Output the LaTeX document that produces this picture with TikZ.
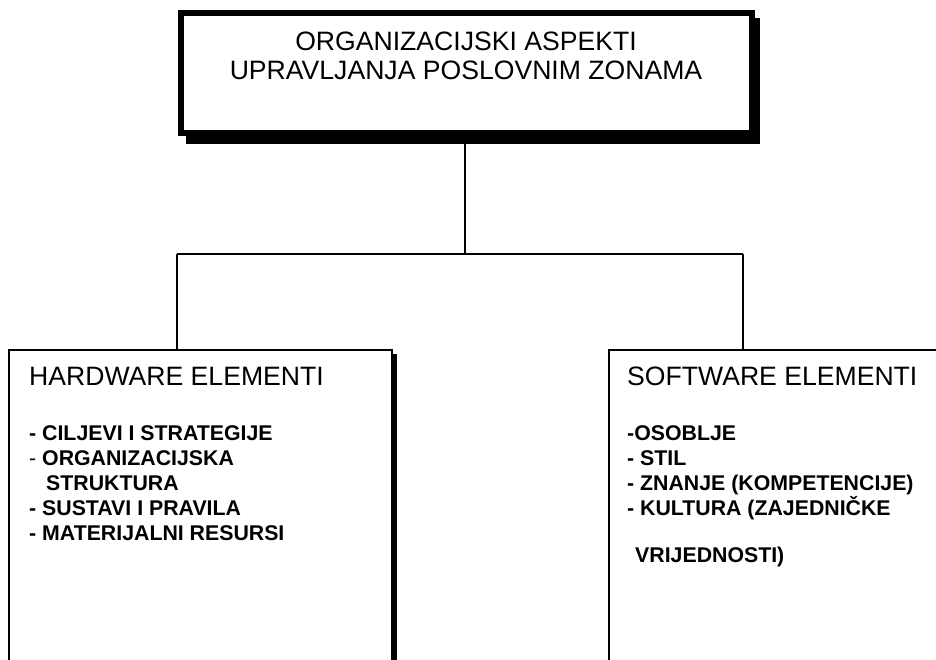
\documentclass[tikz,border=0pt]{standalone}
\usepackage{fontspec}
\setmainfont{Liberation Sans}
\begin{document}
\begin{tikzpicture}[x=1pt,y=-1pt,line join=miter]
\tikzset{
  conn/.style={line width=2pt},
  box/.style={draw,line width=2pt,fill=white,inner sep=0pt},
  shadowfill/.style={fill=black,draw=none},
  hdr/.style={anchor=base west,inner sep=0pt,font=\fontsize{26.6}{30}\selectfont},
  itm/.style={anchor=base west,inner sep=0pt,font=\bfseries\fontsize{21.3}{25}\selectfont},
  ttl/.style={anchor=base,inner sep=0pt,font=\fontsize{26.6}{30}\selectfont},
}
\path[use as bounding box] (0,0) rectangle (936,659);
\clip (0,0) rectangle (936,659);
\fill[white] (0,0) rectangle (936,659);
% top box with shadow
\path[shadowfill] (186,18) rectangle (760,144);
\node[draw,line width=6pt,fill=white,inner sep=0pt,minimum width=571pt,minimum height=120pt] (top) at (466.5,73) {};
\node[ttl] (t1) at (466,50) {ORGANIZACIJSKI ASPEKTI};
\node[ttl] (t2) at (466,79) {UPRAVLJANJA POSLOVNIM ZONAMA};
% left box
\path[shadowfill] (14,354) rectangle (397,730);
\node[box,minimum width=383pt,minimum height=370pt] (hw) at (200.5,535) {};
\node[hdr] (hwh) at (29,385) {HARDWARE ELEMENTI};
\node[itm] (h1) at (29,440) {- CILJEVI I STRATEGIJE};
\node[itm] (h2) at (29,465) {{\mdseries -} ORGANIZACIJSKA};
\node[itm] (h3) at (46,490) {STRUKTURA};
\node[itm] (h4) at (29,515) {- SUSTAVI I PRAVILA};
\node[itm] (h5) at (29,540) {- MATERIJALNI RESURSI};
% right box
\path[shadowfill] (614,354) rectangle (965,730);
\node[box,minimum width=351pt,minimum height=370pt] (sw) at (784.5,535) {};
\node[hdr] (swh) at (627,385) {SOFTWARE ELEMENTI};
\node[itm] (s1) at (627,440) {-OSOBLJE};
\node[itm] (s2) at (627,465) {- STIL};
\node[itm] (s3) at (627,490) {- ZNANJE (KOMPETENCIJE)};
\node[itm] (s4) at (627,515) {- KULTURA (ZAJEDNIČKE};
\node[itm] (s5) at (635,562) {VRIJEDNOSTI)};
% connectors
\coordinate (jl) at (177,254);
\coordinate (jc) at (465,254);
\coordinate (jr) at (743,254);
\draw[conn] (jc |- top.south) -- (jc);
\draw[conn] (jl) -- (jr);
\draw[conn] (jl) -- (jl |- hw.north);
\draw[conn] (jr) -- (jr |- sw.north);
\end{tikzpicture}
\end{document}
